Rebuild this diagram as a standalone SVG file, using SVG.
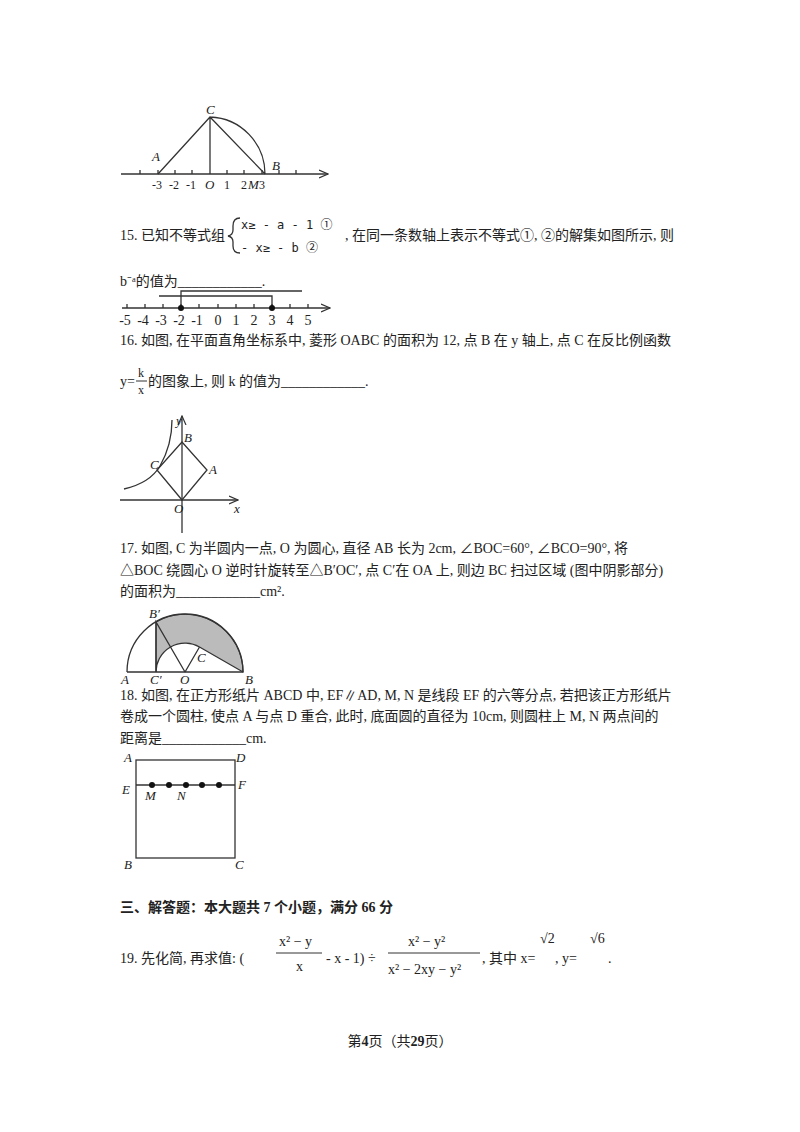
<svg xmlns="http://www.w3.org/2000/svg" width="800" height="1132" viewBox="0 0 800 1132">
<style>
text{font-family:"Liberation Serif","Noto Sans CJK SC",serif;font-size:14px;fill:#222}
.l{stroke:#333;stroke-width:1.3;fill:none}
.i{font-style:italic;font-size:13px}
.s{font-size:12px}
.n{font-size:14px;text-anchor:middle}
.m{font-family:"DejaVu Sans Mono","Noto Sans CJK SC",monospace;font-size:12px}
</style>
<defs><marker id="ar" markerWidth="10" markerHeight="10" refX="9" refY="5" orient="auto" markerUnits="userSpaceOnUse"><path d="M0,1 L9,5 L0,9" fill="none" stroke="#333" stroke-width="1.2"/></marker></defs>
<rect width="800" height="1132" fill="#fff"/>
<g id="fig14">
<line class="l" x1="121" y1="174" x2="328" y2="174" marker-end="url(#ar)"/>
<path class="l" d="M140,170V174M158,170V174M175,170V174M192,170V174M227,170V174M244,170V174M262,170V174M279,170V174M296,170V174"/>
<path class="l" d="M158,174L210,117L265,174M210,117V174M210,117A57,57 0 0 1 265,174"/>
<text x="152" y="161" class="i">A</text><text x="206" y="114" class="i">C</text><text x="272" y="170" class="i">B</text>
<text x="152" y="189" class="s">-3</text><text x="169" y="189" class="s">-2</text><text x="186" y="189" class="s">-1</text><text x="205" y="189" class="i">O</text><text x="224" y="189" class="s">1</text><text x="241" y="189" class="s">2</text><text x="248" y="189" class="i">M</text><text x="259" y="189" class="s">3</text>
</g>
<text x="120" y="240">15. 已知不等式组</text>
<path class="l" d="M240,218 Q233,218 233,226 V230 Q233,235 228,236 Q233,237 233,242 V246 Q233,253 240,253" stroke-width="1"/>
<text x="241" y="229" class="m">x≥ - a - 1  ①</text>
<text x="241" y="252" class="m">- x≥ - b   ②</text>
<text x="345" y="240">, 在同一条数轴上表示不等式①, ②的解集如图所示, 则</text>
<text x="120" y="286">b⁻ᵃ的值为____________.</text>
<g id="fig15">
<line class="l" x1="122" y1="308" x2="330" y2="308" marker-end="url(#ar)"/>
<path class="l" d="M127,304V308M145,304V308M163,304V308M181,304V308M199,304V308M218,304V308M236,304V308M254,304V308M272,304V308M290,304V308M308,304V308"/>
<path class="l" d="M181,308V291H302M272,308V296H159"/>
<circle cx="181" cy="308" r="3" fill="#111"/><circle cx="272" cy="308" r="3" fill="#111"/>
<text x="125" y="325" class="n">-5</text><text x="143" y="325" class="n">-4</text><text x="161" y="325" class="n">-3</text><text x="179" y="325" class="n">-2</text><text x="197" y="325" class="n">-1</text><text x="218" y="325" class="n">0</text><text x="236" y="325" class="n">1</text><text x="254" y="325" class="n">2</text><text x="272" y="325" class="n">3</text><text x="290" y="325" class="n">4</text><text x="308" y="325" class="n">5</text>
</g>
<text x="120" y="345">16. 如图, 在平面直角坐标系中, 菱形 OABC 的面积为 12, 点 B 在 y 轴上, 点 C 在反比例函数</text>
<text x="120" y="386">y=</text><text x="138" y="377" class="s">k</text><line x1="136" y1="381" x2="147" y2="381" stroke="#333"/><text x="138" y="394" class="s">x</text>
<text x="148" y="386">的图象上, 则 k 的值为____________.</text>
<g id="fig16">
<line class="l" x1="182" y1="533" x2="182" y2="416" marker-end="url(#ar)"/>
<line class="l" x1="120" y1="500" x2="238" y2="500" marker-end="url(#ar)"/>
<path class="l" d="M182,500L157,470L182,442L207,470Z"/>
<path class="l" d="M124,489 Q150,483 160,466 Q172,445 172,420"/>
<text x="176" y="425" class="i">y</text><text x="184" y="442" class="i">B</text><text x="150" y="469" class="i">C</text><text x="209" y="474" class="i">A</text><text x="174" y="513" class="i">O</text><text x="234" y="513" class="i">x</text>
</g>
<text x="120" y="553">17. 如图, C 为半圆内一点, O 为圆心, 直径 AB 长为 2cm, ∠BOC=60°, ∠BCO=90°, 将</text>
<text x="120" y="575">△BOC 绕圆心 O 逆时针旋转至△B′OC′, 点 C′在 OA 上, 则边 BC 扫过区域 (图中阴影部分)</text>
<text x="120" y="596">的面积为____________cm².</text>
<g id="fig17">
<path d="M156,622 A58,58 0 0 1 243,672 L199.5,647 A29,29 0 0 0 156,672 Z" fill="#bbb" stroke="#333" stroke-width="1.2"/>
<path class="l" d="M127,672 H243 M127,672 A58,58 0 0 1 243,672 M156,672 V622 L185,672 L199.5,647"/>
<text x="121" y="684" class="i" font-size="12">A</text><text x="150" y="684" class="i" font-size="12">C′</text><text x="180" y="684" class="i" font-size="12">O</text><text x="197" y="662" class="i">C</text><text x="245" y="684" class="i" font-size="12">B</text><text x="149" y="618" class="i">B′</text>
</g>
<text x="120" y="700">18. 如图, 在正方形纸片 ABCD 中, EF∥AD, M, N 是线段 EF 的六等分点, 若把该正方形纸片</text>
<text x="120" y="721">卷成一个圆柱, 使点 A 与点 D 重合, 此时, 底面圆的直径为 10cm, 则圆柱上 M, N 两点间的</text>
<text x="120" y="743">距离是____________cm.</text>
<g id="fig18">
<rect class="l" x="136" y="760" width="99" height="98"/>
<line class="l" x1="136" y1="785" x2="235" y2="785"/>
<g fill="#111"><circle cx="152" cy="785" r="3"/><circle cx="169" cy="785" r="3"/><circle cx="186" cy="785" r="3"/><circle cx="202" cy="785" r="3"/><circle cx="219" cy="785" r="3"/></g>
<text x="124" y="762" class="i">A</text><text x="236" y="762" class="i">D</text><text x="122" y="794" class="i">E</text><text x="238" y="789" class="i">F</text><text x="145" y="800" class="i">M</text><text x="177" y="800" class="i">N</text><text x="124" y="869" class="i">B</text><text x="235" y="869" class="i">C</text>
</g>
<text x="120" y="912" font-weight="bold">三、解答题：本大题共 7 个小题，满分 66 分</text>
<text x="120" y="963">19. 先化简, 再求值: (</text>
<text x="279" y="946" font-size="13">x² − y</text><line x1="276" y1="953" x2="322" y2="953" stroke="#333"/><text x="296" y="971" font-size="13">x</text>
<text x="326" y="963" font-size="13">- x - 1) ÷</text>
<text x="408" y="946" font-size="13">x² − y²</text><line x1="388" y1="953" x2="480" y2="953" stroke="#333"/><text x="388" y="974" font-size="13">x² − 2xy − y²</text>
<text x="482" y="963">, 其中 x=</text><text x="540" y="943">√2</text>
<text x="555" y="963">, y=</text><text x="590" y="943">√6</text><text x="608" y="963">.</text>
<text x="400" y="1046" text-anchor="middle" font-size="13">第<tspan font-weight="bold">4</tspan>页（共<tspan font-weight="bold">29</tspan>页）</text>
</svg>
